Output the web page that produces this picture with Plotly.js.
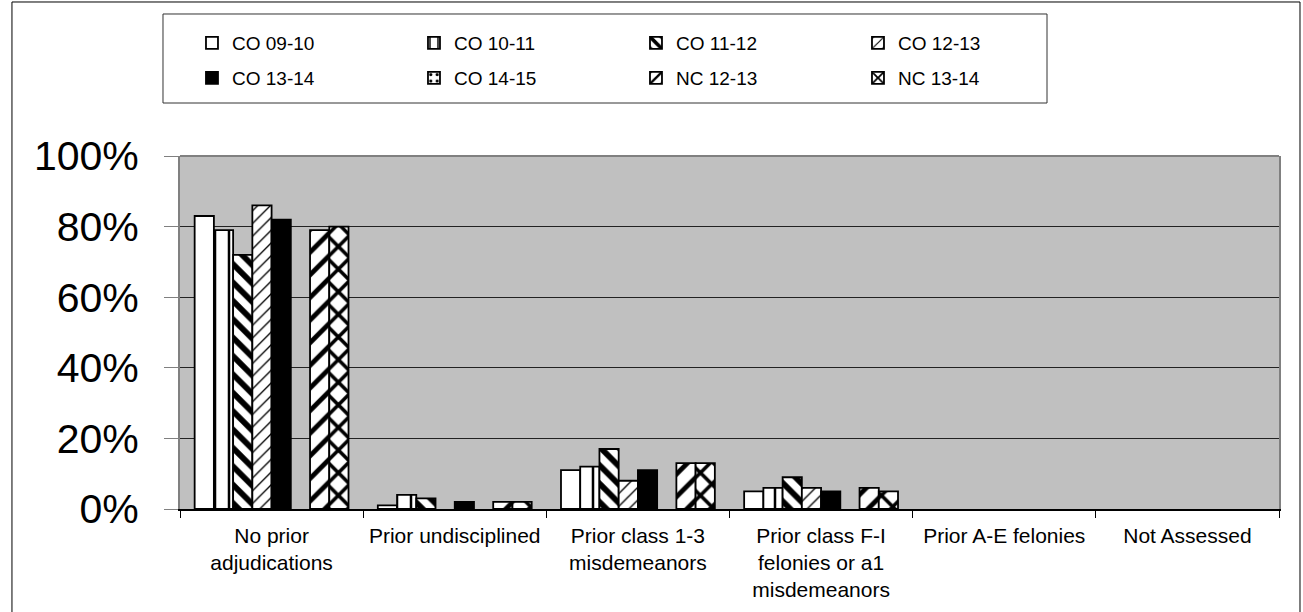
<!DOCTYPE html>
<html>
<head>
<meta charset="utf-8">
<script src="https://cdn.plot.ly/plotly-3.0.1.min.js"></script>
<style>html,body{margin:0;padding:0;background:#fff;}#chart{width:1303px;height:612px;}</style>
</head>
<body>
<div id="chart"></div>
<script>
// ---- data ----
var categories = [
  "No prior<br>adjudications",
  "Prior undisciplined",
  "Prior class 1-3<br>misdemeanors",
  "Prior class F-I<br>felonies or a1<br>misdemeanors",
  "Prior A-E felonies",
  "Not Assessed"
];
var seriesNames = ["CO 09-10", "CO 10-11", "CO 11-12", "CO 12-13", "CO 13-14", "CO 14-15", "NC 12-13", "NC 13-14"];
var co0910 = [83, 1, 11, 5, 0, 0];
var co1011 = [79, 4, 12, 6, 0, 0];
var co1112 = [72, 3, 17, 9, 0, 0];
var co1213 = [86, 0, 8, 6, 0, 0];
var co1314 = [82, 2, 11, 5, 0, 0];
var co1415 = [0, 0, 0, 0, 0, 0];
var nc1213 = [79, 2, 13, 6, 0, 0];
var nc1314 = [80, 2, 13, 5, 0, 0];
var yTickVals = [0, 20, 40, 60, 80, 100];
var yTickText = ["0%", "20%", "40%", "60%", "80%", "100%"];

var seriesValues = [co0910, co1011, co1112, co1213, co1314, co1415, nc1213, nc1314];

// ---- styles ----
var styles = [
  {color: "#ffffff", pattern: null},
  {color: "#ffffff", pattern: {shape: "|", fgcolor: "#000", bgcolor: "#fff", size: 14, solidity: 0.18}},
  {color: "#ffffff", pattern: {shape: "\\", fgcolor: "#000", bgcolor: "#fff", size: 13, solidity: 0.45}},
  {color: "#ffffff", pattern: {shape: "/", fgcolor: "#000", bgcolor: "#fff", size: 9, solidity: 0.15}},
  {color: "#000000", pattern: null},
  {color: "#ffffff", pattern: {shape: ".", fgcolor: "#000", bgcolor: "#fff", size: 8, solidity: 0.2}},
  {color: "#ffffff", pattern: {shape: "/", fgcolor: "#000", bgcolor: "#fff", size: 16, solidity: 0.3}},
  {color: "#ffffff", pattern: {shape: "x", fgcolor: "#000", bgcolor: "#fff", size: 16, solidity: 0.4}}
];

var FONT = "Liberation Sans, Arial, Helvetica, sans-serif";

var traces = seriesNames.map(function (name, i) {
  var vals = seriesValues[i];
  var marker = {color: styles[i].color, line: {color: "#000", width: 1.8}};
  if (styles[i].pattern) marker.pattern = styles[i].pattern;
  return {
    type: "bar",
    name: name,
    x: categories,
    // zero-height bars are not drawn in the reference
    y: vals.map(function (v) { return v > 0 ? v : null; }),
    marker: marker,
    legend: i < 4 ? "legend" : "legend2",
    hoverinfo: "skip"
  };
});

var legendCommon = {
  orientation: "h",
  font: {family: FONT, size: 19, color: "#000"},
  bgcolor: "rgba(0,0,0,0)",
  borderwidth: 0,
  entrywidth: 177,
  entrywidthmode: "pixels",
  traceorder: "normal",
  xanchor: "left",
  yanchor: "top",
  x: 0.0109
};

var layout = {
  width: 1303,
  height: 612,
  margin: {l: 180, r: 24, t: 156, b: 103},
  paper_bgcolor: "#ffffff",
  plot_bgcolor: "#c0c0c0",
  barmode: "group",
  bargap: 0.16,
  bargroupgap: 0,
  showlegend: true,
  legend: Object.assign({}, legendCommon, {y: 1.3740}),
  legend2: Object.assign({}, legendCommon, {y: 1.2748}),
  xaxis: {
    type: "category",
    tickson: "boundaries",
    ticks: "outside",
    ticklen: 7,
    tickcolor: "#000",
    tickwidth: 1,
    showline: true,
    linecolor: "#000",
    linewidth: 1.5,
    showgrid: false,
    tickfont: {family: FONT, size: 21, color: "#000"},
    tickangle: 0,
    ticklabelstandoff: 7,
    fixedrange: true
  },
  yaxis: {
    range: [0, 100],
    tickmode: "array",
    tickvals: yTickVals,
    ticktext: yTickText,
    ticks: "outside",
    ticklen: 14,
    tickcolor: "#808080",
    tickwidth: 1,
    showline: true,
    linecolor: "#808080",
    linewidth: 2,
    mirror: true,
    showgrid: true,
    gridcolor: "#222222",
    gridwidth: 1,
    zeroline: false,
    tickfont: {family: FONT, size: 41, color: "#000"},
    ticklabelstandoff: 17,
    fixedrange: true
  },
  shapes: [
    {type: "line", xref: "paper", yref: "paper", x0: 0, x1: 1, y0: 1, y1: 1,
     line: {color: "#808080", width: 2}, layer: "above"},
    {type: "rect", xref: "paper", yref: "paper", x0: -0.01547, x1: 0.7889, y0: 1.1501, y1: 1.4023,
     line: {color: "#333", width: 1}, fillcolor: "rgba(0,0,0,0)", layer: "above"},
    {type: "rect", xref: "paper", yref: "paper", x0: -0.1529, x1: 1.0191, y0: -0.2946, y1: 1.4363,
     line: {color: "#000", width: 1}, fillcolor: "rgba(0,0,0,0)", layer: "above"}
  ]
};

Plotly.newPlot("chart", traces, layout, {displayModeBar: false, staticPlot: true});
</script>
</body>
</html>
